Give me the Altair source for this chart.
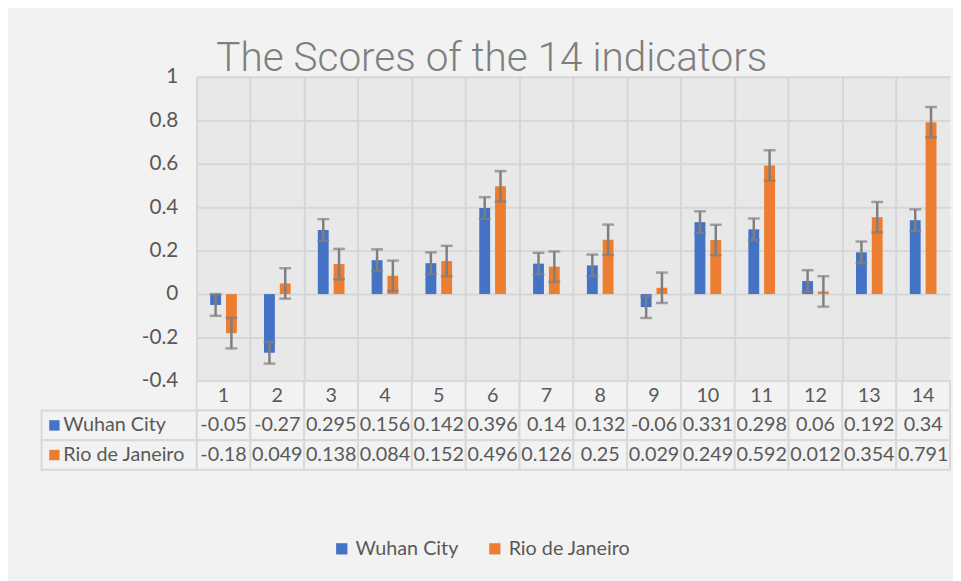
import altair as alt
import pandas as pd

categories = [str(i) for i in range(1, 15)]
series_names = ["Wuhan City", "Rio de Janeiro"]
wuhan = [-0.05, -0.27, 0.295, 0.156, 0.142, 0.396, 0.14, 0.132, -0.06, 0.331, 0.298, 0.06, 0.192, 0.34]
rio = [-0.18, 0.049, 0.138, 0.084, 0.152, 0.496, 0.126, 0.25, 0.029, 0.249, 0.592, 0.012, 0.354, 0.791]
errors = {"Wuhan City": 0.05, "Rio de Janeiro": 0.07}
y_ticks = [-0.4, -0.2, 0, 0.2, 0.4, 0.6, 0.8, 1]

colors = ["#4472C4", "#ED7D31"]
TXT = "#595959"
FONT = "Lato"
BG = "#f2f2f2"
BORDER = "#d9d9d9"

rows = []
for s, vals in zip(series_names, [wuhan, rio]):
    for c, v in zip(categories, vals):
        rows.append({"cat": c, "series": s, "value": v,
                     "lo": v - errors[s], "hi": v + errors[s]})
df = pd.DataFrame(rows)

row_order = ["Indicator"] + series_names
trows = []
for c in categories:
    trows.append({"cat": c, "row": "Indicator", "text": c})
for s, vals in zip(series_names, [wuhan, rio]):
    for c, v in zip(categories, vals):
        trows.append({"cat": c, "row": s, "text": str(v)})
tdf = pd.DataFrame(trows)
hdf = pd.DataFrame({"row": series_names, "series": series_names})

xscale = alt.Scale(domain=categories, paddingInner=0, paddingOuter=0)
xoff = alt.XOffset("series:N", sort=series_names,
                   scale=alt.Scale(domain=series_names, paddingInner=0.3125, paddingOuter=0.86))
cscale = alt.Scale(domain=series_names, range=colors)
legend = alt.Legend(title=None, orient="none", direction="horizontal",
                    legendX=137, legendY=468, symbolType="square", symbolSize=130,
                    symbolStrokeWidth=0, symbolOpacity=1, labelFontSize=20, labelColor=TXT,
                    labelFont=FONT, columnPadding=26, labelOffset=4)

xenc = alt.X("cat:N", sort=categories, scale=xscale,
             axis=alt.Axis(title=None, labels=False, ticks=False, domain=False,
                           grid=True, bandPosition=0, gridColor="#d6d6d6", gridWidth=2,
                           minExtent=0, maxExtent=0, labelPadding=0, offset=0))
yenc = alt.Y("value:Q", scale=alt.Scale(domain=[-0.4, 1], nice=False, zero=False),
             axis=alt.Axis(title=None, values=y_ticks, domain=False, ticks=False,
                           labelFontSize=21, labelColor=TXT, labelFont=FONT, labelPadding=19,
                           labelExpr="toString(round(datum.value*10)/10)",
                           gridColor="#d6d6d6", gridWidth=2))

base = alt.Chart(df)
bars = base.mark_bar().encode(
    x=xenc, xOffset=xoff, y=yenc,
    color=alt.Color("series:N", sort=series_names, scale=cscale, legend=legend))
err = base.mark_rule(color="#7f7f7f", strokeWidth=2.5).encode(
    x=alt.X("cat:N", sort=categories, scale=xscale), xOffset=xoff,
    y=alt.Y("lo:Q"), y2="hi:Q")
cap_lo = base.mark_tick(color="#7f7f7f", thickness=2.5, size=12).encode(
    x=alt.X("cat:N", sort=categories, scale=xscale), xOffset=xoff, y=alt.Y("lo:Q"))
cap_hi = base.mark_tick(color="#7f7f7f", thickness=2.5, size=12).encode(
    x=alt.X("cat:N", sort=categories, scale=xscale), xOffset=xoff, y=alt.Y("hi:Q"))

top = alt.layer(bars, err, cap_lo, cap_hi).properties(
    width=763, height=308,
    title=alt.Title("The Scores of the 14 indicators", anchor="start", frame="group",
                    dx=20, dy=14, fontSize=41, font="Roboto",
                    fontWeight=300, color="#7f7f7f", offset=0))

tx = alt.X("cat:N", sort=categories, scale=xscale, axis=None)
ty = alt.Y("row:N", sort=row_order,
           scale=alt.Scale(domain=row_order, paddingInner=0, paddingOuter=0), axis=None)
tbase = alt.Chart(tdf)
cells = tbase.mark_rect(fill=BG, stroke=BORDER, strokeWidth=2).encode(x=tx, y=ty)
texts = tbase.mark_text(fontSize=20, color=TXT, font=FONT).encode(x=tx, y=ty, text="text:N")
hbase = alt.Chart(hdf)
hcells = hbase.mark_rect(fill=BG, stroke=BORDER, strokeWidth=2).encode(
    x=alt.value(-157), x2=alt.value(0), y=ty)
hsq = hbase.mark_square(size=110, opacity=1).encode(
    x=alt.value(-144), y=ty,
    color=alt.Color("series:N", sort=series_names, scale=cscale, legend=legend))
htxt = hbase.mark_text(align="left", fontSize=20, color=TXT, font=FONT).encode(
    x=alt.value(-135), y=ty, text="row:N")
table = alt.layer(cells, texts, hcells, hsq, htxt).properties(width=763, height=90)

chart = alt.vconcat(top, table, spacing=0, bounds="flush").properties(
    background=BG, padding={"left": 33, "top": 27, "right": 2, "bottom": 30}
).configure_view(fill="#e8e8e8", stroke=None).configure_concat(spacing=0)

chart.save("out.html", embed_options={"renderer": "svg", "actions": False})
